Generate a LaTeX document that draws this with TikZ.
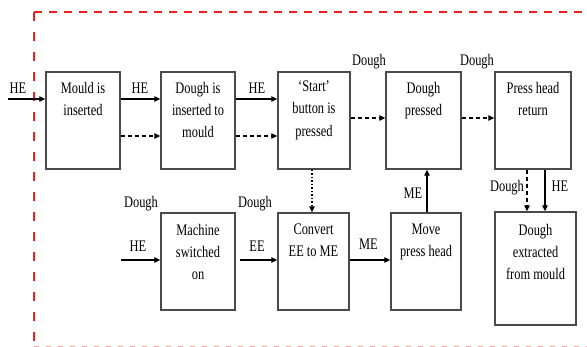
\documentclass[tikz,border=0pt]{standalone}
\usepackage{fontspec}
\setmainfont{Liberation Serif}
\usetikzlibrary{arrows.meta}
\definecolor{boxgray}{HTML}{4A4A4A}
\definecolor{bordred}{HTML}{F02020}
\tikzset{
  procbox/.style={draw=boxgray, line width=1.4pt, inner sep=0pt, minimum width=#1, minimum height=97pt},
  boxtext/.style={anchor=north, inner sep=0pt, align=center, yscale=1.3, transform shape, font=\fontsize{12.4}{17}\selectfont},
  lbl/.style={anchor=base, inner sep=0pt, yscale=1.3, transform shape, font=\fontsize{12.4}{17}\selectfont},
  flow/.style={line width=1.2pt, -{Triangle[length=6pt,width=5.5pt]}},
  dflow/.style={flow, dash pattern=on 4pt off 3pt},
  dotflow/.style={flow, dash pattern=on 1.5pt off 2pt},
  border/.style={bordred, line width=2pt},
}
\begin{document}
\begin{tikzpicture}[x=1pt,y=-1pt]
\useasboundingbox (0,0) rectangle (587,346);
% border
\coordinate (bTL) at (34,12);
\coordinate (bTR) at (587,12);
\coordinate (bBL) at (34,346);
\coordinate (bBL2) at (34,346.5);
\coordinate (bBR) at (587,346.5);
\draw[border, dash pattern=on 8pt off 7pt] (bTL) -- (bTR);
\draw[border, dash pattern=on 9pt off 11pt] (bTL) -- (bBL);
\draw[bordred!40, line width=2pt, dash pattern=on 5pt off 7pt] (bBL2) -- (bBR);

% top row boxes
\node[procbox=74pt] (b1) at (83,120.5) {};
\node[procbox=74pt] (b2) at (198,120.5) {};
\node[procbox=72pt] (b3) at (314,120.5) {};
\node[procbox=75pt] (b4) at (423.5,120.5) {};
\node[procbox=76pt] (b5) at (533,120.5) {};
% bottom row boxes
\node[procbox=74pt] (m1) at (198,261.5) {};
\node[procbox=71pt] (m2) at (313.5,261.5) {};
\node[procbox=70pt] (m3) at (426,261.5) {};
\node[procbox=81pt, minimum height=113pt] (m4) at (535.5,268.5) {};

% box texts
\node[boxtext] (t1) at ([yshift=-10.5pt]b1.north) {Mould is\\inserted};
\node[boxtext] (t2) at ([yshift=-10.5pt]b2.north) {Dough is\\inserted to\\mould};
\node[boxtext] (t3) at ([yshift=-9.5pt]b3.north) {‘Start’\\button is\\pressed};
\node[boxtext] (t4) at ([yshift=-10.5pt]b4.north) {Dough\\pressed};
\node[boxtext] (t5) at ([yshift=-10.5pt]b5.north) {Press head\\return};
\node[boxtext] (u1) at ([yshift=-11.5pt]m1.north) {Machine\\switched\\on};
\node[boxtext] (u2) at ([yshift=-11.5pt]m2.north) {Convert\\EE to ME};
\node[boxtext] (u3) at ([yshift=-11.5pt]m3.north) {Move\\press head};
\node[boxtext] (u4) at ([yshift=-12.5pt]m4.north) {Dough\\extracted\\from mould};

% free ends
\coordinate (inTop) at (8,99);
\coordinate (inBot) at (121,260);

% top row connectors
\draw[flow] (inTop) -- (inTop -| b1.west);
\draw[flow] ([yshift=21.5pt]b1.east) -- ([yshift=21.5pt]b2.west);
\draw[dflow] ([yshift=-15.5pt]b1.east) -- ([yshift=-15.5pt]b2.west);
\draw[flow] ([yshift=21.5pt]b2.east) -- ([yshift=21.5pt]b3.west);
\draw[dflow] ([yshift=-15.5pt]b2.east) -- ([yshift=-15.5pt]b3.west);
\draw[dflow] ([yshift=2.5pt]b3.east) -- ([yshift=2.5pt]b4.west);
\draw[dflow] ([yshift=2.5pt]b4.east) -- ([yshift=2.5pt]b5.west);

% vertical connectors
\draw[dotflow] ([xshift=-2pt]b3.south) -- ([xshift=-1.5pt]m2.north);
\draw[flow] ([xshift=1pt]m3.north) -- ([xshift=3.5pt]b4.south);
\draw[dflow] ([xshift=-6pt]b5.south) -- ([xshift=-8.5pt]m4.north);
\draw[flow] ([xshift=12pt]b5.south) -- ([xshift=9.5pt]m4.north);

% bottom row connectors
\draw[flow] (inBot) -- (inBot -| m1.west);
\draw[flow] ([yshift=1.5pt,xshift=4pt]m1.east) -- ([yshift=1.5pt]m2.west);
\draw[flow] ([yshift=1.5pt]m2.east) -- ([yshift=1.5pt]m3.west);

% labels
\node[lbl] (lHEin) at (18,93.5) {HE};
\node[lbl] (lHE12) at (140,93.5) {HE};
\node[lbl] (lHE23) at (257,93.5) {HE};
\node[lbl] (lD4) at (369,65) {Dough};
\node[lbl] (lD5) at (477,65) {Dough};
\node[lbl] (lDm1) at (141,207) {Dough};
\node[lbl] (lHEm1) at (138,251) {HE};
\node[lbl] (lDm2) at (255,207) {Dough};
\node[lbl] (lEE) at (257,251) {EE};
\node[lbl] (lME1) at (368.5,249) {ME};
\node[lbl] (lME2) at (413,198) {ME};
\node[lbl] (lD6) at (507,191) {Dough};
\node[lbl] (lHE6) at (560,191) {HE};
\end{tikzpicture}
\end{document}
